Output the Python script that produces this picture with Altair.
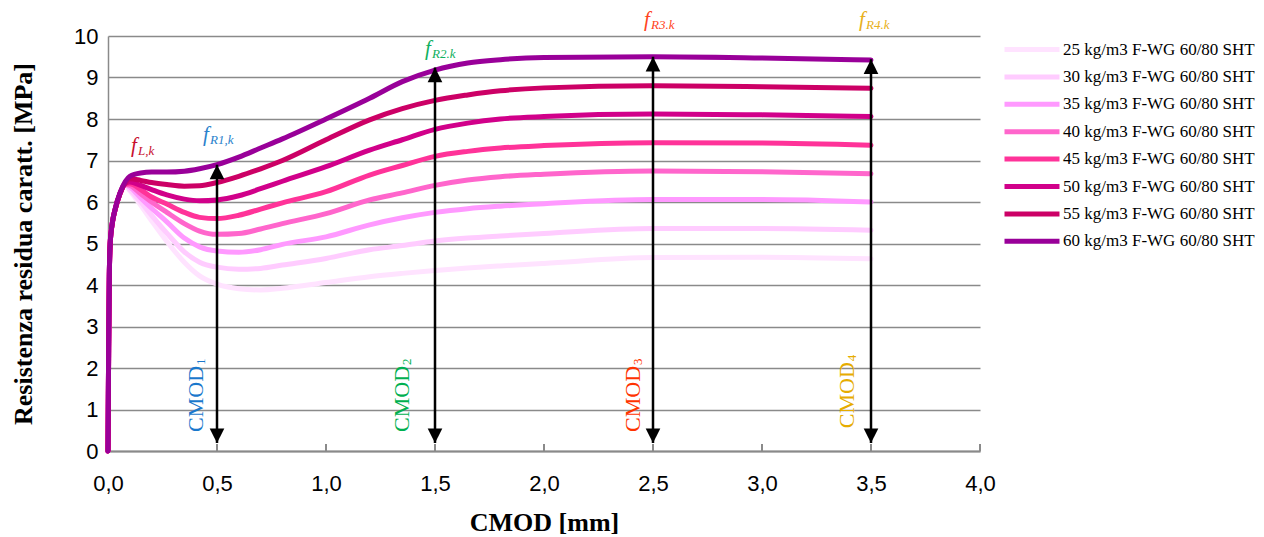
import altair as alt
import pandas as pd

# ---------------- data ----------------
X = [0, 0.003, 0.006, 0.01, 0.02, 0.032, 0.055, 0.08, 0.1, 0.15, 0.2, 0.27, 0.35,
     0.42, 0.5, 0.6, 0.7, 0.8, 1.0, 1.2, 1.35, 1.5, 1.65, 1.8, 2.0, 2.5, 3.0, 3.5]

S25 = [0, 2.5, 4.2, 5.0, 5.5, 5.8, 6.2, 6.4, 6.27, 5.92, 5.55, 5.05, 4.55,
       4.22, 4.02, 3.91, 3.88, 3.92, 4.06, 4.2, 4.28, 4.35, 4.41, 4.46, 4.52, 4.66, 4.67, 4.63]
S30 = [0, 2.5, 4.2, 5.0, 5.5, 5.8, 6.2, 6.41, 6.3, 6.0, 5.68, 5.25, 4.8,
       4.55, 4.43, 4.38, 4.4, 4.48, 4.64, 4.85, 4.95, 5.06, 5.13, 5.18, 5.24, 5.36, 5.36, 5.32]
S35 = [0, 2.5, 4.2, 5.0, 5.5, 5.8, 6.2, 6.42, 6.36, 6.1, 5.85, 5.52, 5.13,
       4.92, 4.82, 4.79, 4.85, 4.98, 5.16, 5.45, 5.62, 5.75, 5.84, 5.9, 5.96, 6.06, 6.06, 6.0]
S40 = [0, 2.5, 4.2, 5.0, 5.5, 5.8, 6.2, 6.42, 6.4, 6.2, 6.0, 5.75, 5.48,
       5.3, 5.22, 5.24, 5.35, 5.48, 5.72, 6.05, 6.22, 6.4, 6.53, 6.61, 6.67, 6.75, 6.73, 6.68]
S45 = [0, 2.5, 4.2, 5.0, 5.5, 5.8, 6.2, 6.43, 6.44, 6.3, 6.12, 5.95, 5.75,
       5.63, 5.6, 5.68, 5.83, 5.98, 6.25, 6.65, 6.88, 7.1, 7.22, 7.3, 7.36, 7.43, 7.42, 7.37]
S50 = [0, 2.5, 4.2, 5.0, 5.5, 5.8, 6.2, 6.45, 6.48, 6.4, 6.3, 6.17, 6.07,
       6.03, 6.05, 6.15, 6.32, 6.5, 6.85, 7.25, 7.5, 7.75, 7.9, 8.0, 8.06, 8.12, 8.1, 8.06]
S55 = [0, 2.5, 4.2, 5.0, 5.5, 5.8, 6.2, 6.47, 6.56, 6.52, 6.47, 6.42, 6.38,
       6.39, 6.47, 6.62, 6.8, 7.0, 7.5, 7.98, 8.25, 8.45, 8.58, 8.68, 8.75, 8.8, 8.78, 8.74]
S60 = [0, 2.5, 4.2, 5.0, 5.5, 5.82, 6.22, 6.5, 6.62, 6.7, 6.72, 6.72, 6.74,
       6.8, 6.9, 7.08, 7.3, 7.52, 8.0, 8.5, 8.9, 9.18, 9.35, 9.43, 9.48, 9.5, 9.47, 9.42]

SERIES = [S25, S30, S35, S40, S45, S50, S55, S60]
LABELS = [f"{d} kg/m3 F-WG 60/80 SHT" for d in (25, 30, 35, 40, 45, 50, 55, 60)]
COLORS = ["#ffe3ff", "#ffccff", "#ff99ff", "#ff66cc", "#ff3399",
          "#d1008a", "#cc0066", "#990099"]

X_TICKS = [0, 0.5, 1.0, 1.5, 2.0, 2.5, 3.0, 3.5, 4.0]
Y_TICKS = list(range(0, 11))

# arrows (CMOD1..4) : top at the 60 kg curve, bottom near the axis
ARROW_X = [0.5, 1.5, 2.5, 3.5]
ARROW_TOP = [6.9, 9.24, 9.5, 9.44]
ARROW_BOTTOM = [0.19, 0.19, 0.19, 0.19]

# f labels
F_NAMES = ["fL", "fR1", "fR2", "fR3", "fR4"]
F_SUB = ["L,k", "R1,k", "R2.k", "R3.k", "R4.k"]
F_X = [0.1055, 0.436, 1.454, 2.459, 3.445]
F_Y = [7.2, 7.47, 9.54, 10.24, 10.24]
F_COLORS = ["#c8102e", "#2a82cc", "#10b060", "#ff4422", "#e8b020"]

# CMOD labels
C_NAMES = ["CMOD1", "CMOD2", "CMOD3", "CMOD4"]
C_SUB = ["1", "2", "3", "4"]
C_X = [0.436, 1.381, 2.440, 3.422]
C_Y = [0.46, 0.46, 0.46, 0.55]
C_COLORS = ["#1a78cc", "#00b050", "#ff3300", "#e6ac00"]

# ---------------- tables ----------------
rows = []
for lab, ys in zip(LABELS, SERIES):
    for i, (x, y) in enumerate(zip(X, ys)):
        rows.append({"serie": lab, "x": x, "y": y, "i": i})
df = pd.DataFrame(rows)

df_arrows = pd.DataFrame({"x": ARROW_X, "top": ARROW_TOP, "bottom": ARROW_BOTTOM})
df_f = pd.DataFrame({"name": F_NAMES, "sub": F_SUB, "x": F_X, "y": F_Y})
df_c = pd.DataFrame({"name": C_NAMES, "sub": C_SUB, "x": C_X, "y": C_Y})
df_ticks = pd.DataFrame({"x": X_TICKS[1:], "y0": [0] * 8, "y1": [0.17] * 8})

GRID = "#8a8a8a"

xscale = alt.Scale(domain=[0, 4], nice=False, zero=False)
yscale = alt.Scale(domain=[0, 10], nice=False)

x_axis = alt.Axis(values=X_TICKS, labelExpr="replace(format(datum.value, '.1f'), '.', ',')",
                  ticks=False, tickSize=0, grid=False, domainColor=GRID, domainWidth=2,
                  labelFont="Liberation Sans", labelFontSize=22, labelColor="black",
                  labelPadding=22, labelFlush=False, labelOverlap=False,
                  title="CMOD [mm]", titleFont="Liberation Serif", titleFontWeight="bold",
                  titleFontSize=26, titleColor="black", titleBaseline="alphabetic", titleY=79)
y_axis = alt.Axis(values=Y_TICKS, format="d", ticks=False, tickSize=0, grid=True,
                  gridColor=GRID, gridWidth=1.5, domainColor=GRID, domainWidth=1.5,
                  labelFont="Liberation Sans", labelFontSize=22, labelColor="black",
                  labelPadding=10, labelFlush=False, labelOverlap=False,
                  title="Resistenza residua caratt. [MPa]", titleFont="Liberation Serif",
                  titleFontWeight="bold", titleFontSize=26, titleColor="black", titleX=-72)

lines = alt.Chart(df).mark_line(strokeWidth=5, interpolate="monotone", strokeCap="round").encode(
    x=alt.X("x:Q", scale=xscale, axis=x_axis),
    y=alt.Y("y:Q", scale=yscale, axis=y_axis),
    color=alt.Color("serie:N", scale=alt.Scale(domain=LABELS, range=COLORS),
                    legend=alt.Legend(title=None, orient="none", legendX=880, legendY=-3,
                                      symbolType="M0,0H4", symbolSize=756, symbolStrokeWidth=5,
                                      labelFont="Liberation Serif", labelFontSize=17,
                                      labelColor="black", labelOffset=42, rowPadding=0.4,
                                      padding=0, labelLimit=400, symbolOpacity=1)),
    order="i:Q",
)

xticks = alt.Chart(df_ticks).mark_rule(color=GRID, strokeWidth=2).encode(
    x=alt.X("x:Q", scale=xscale), y=alt.Y("y0:Q", scale=yscale), y2="y1:Q")

shafts = alt.Chart(df_arrows).mark_rule(color="black", strokeWidth=2.5).encode(
    x=alt.X("x:Q", scale=xscale), y=alt.Y("bottom:Q", scale=yscale), y2="top:Q")
heads_up = alt.Chart(df_arrows).mark_point(shape="M0,0L1,2L-1,2Z", size=215, filled=True,
                                           color="black", opacity=1).encode(
    x=alt.X("x:Q", scale=xscale), y=alt.Y("top:Q", scale=yscale))
heads_down = alt.Chart(df_arrows).mark_point(shape="M0,0L1,-2L-1,-2Z", size=215, filled=True,
                                             color="black", opacity=1).encode(
    x=alt.X("x:Q", scale=xscale), y=alt.Y("bottom:Q", scale=yscale))

fcol = alt.Color("name:N", scale=alt.Scale(domain=F_NAMES, range=F_COLORS), legend=None)
f_main = alt.Chart(df_f).mark_text(text="f", font="Liberation Serif", fontStyle="italic",
                                   fontSize=21, align="left", baseline="alphabetic").encode(
    x=alt.X("x:Q", scale=xscale), y=alt.Y("y:Q", scale=yscale), color=fcol)
f_sub = alt.Chart(df_f).mark_text(font="Liberation Serif", fontStyle="italic", fontSize=13,
                                  align="left", baseline="alphabetic", dx=7, dy=3).encode(
    x=alt.X("x:Q", scale=xscale), y=alt.Y("y:Q", scale=yscale), text="sub:N", color=fcol)

ccol = alt.Color("name:N", scale=alt.Scale(domain=C_NAMES, range=C_COLORS), legend=None)
c_main = alt.Chart(df_c).mark_text(text="CMOD", font="Liberation Serif", fontSize=22, angle=270,
                                   align="left", baseline="alphabetic").encode(
    x=alt.X("x:Q", scale=xscale), y=alt.Y("y:Q", scale=yscale), color=ccol)
c_sub = alt.Chart(df_c).mark_text(font="Liberation Serif", fontSize=13, angle=270,
                                  align="left", baseline="alphabetic", dx=67, dy=2).encode(
    x=alt.X("x:Q", scale=xscale), y=alt.Y("y:Q", scale=yscale), text="sub:N", color=ccol)

chart = alt.layer(xticks, lines, shafts, heads_up, heads_down, f_main, f_sub, c_main, c_sub).resolve_scale(
    color="independent"
).properties(
    width=872, height=415,
    padding={"left": 100, "top": 28, "right": 276, "bottom": 86},
    autosize=alt.AutoSizeParams(type="none"),
    background="white",
).configure_view(strokeWidth=0)

chart.save("out.html", embed_options={"renderer": "svg", "actions": False})
